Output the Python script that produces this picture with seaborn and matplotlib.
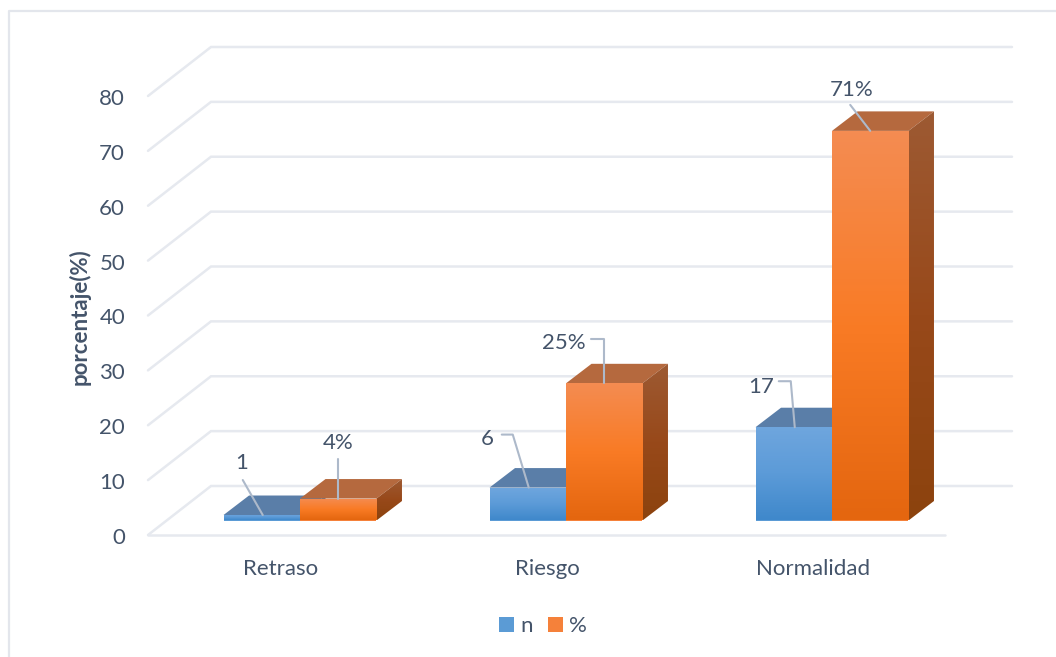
import matplotlib
matplotlib.use("Agg")
import matplotlib.pyplot as plt
from matplotlib.colors import LinearSegmentedColormap
from matplotlib.lines import Line2D
from matplotlib.patches import Polygon, Rectangle
from matplotlib.transforms import Affine2D
import numpy as np
import pandas as pd
import seaborn as sns

categories = ["Retraso", "Riesgo", "Normalidad"]
n_values = [1, 6, 17]
pct_values = [4, 25, 71]
series_names = ["n", "%"]
y_ticks = [0, 10, 20, 30, 40, 50, 60, 70, 80]

W, H = 1056, 657
TEXT = "#44546A"
GRID = "#E6E9EF"
LEADER = "#ADB9CA"
FS = 16

sns.set_theme(style="white")
plt.rcParams["font.family"] = ["Lato", "DejaVu Sans"]

df = pd.DataFrame({
    "cat": categories * 2,
    "serie": [series_names[0]] * 3 + [series_names[1]] * 3,
    "val": n_values + pct_values,
})

fig = plt.figure(figsize=(W / 100, H / 100), dpi=100, facecolor="white")


def make_axes(left, right, y0, y80):
    ax = fig.add_axes([left / W, 1 - y0 / H, (right - left) / W, (y0 - y80) / H])
    ax.set_xlim((left - 300) / 266, (right - 300) / 266)
    ax.set_ylim(0, 80)
    ax.patch.set_alpha(0)
    for s in ax.spines.values():
        s.set_visible(False)
    return ax


# outer frame: only top and left edges are visible in the crop
fig.add_artist(Line2D([8.5 / W, 8.5 / W, 1.0], [0.0, 1 - 11 / H, 1 - 11 / H],
                      transform=fig.transFigure, color="#E3E6EC", lw=1.6))

# walls and value axis
ax_grid = make_axes(148, 945, 535, 96)
PX_Y = 439 / 80
wall_dx, wall_dy = 63 / 266, 49 / PX_Y
xl, xr = ax_grid.get_xlim()
for v in y_ticks:
    ax_grid.plot([xl, xl + wall_dx, xr + 67 / 266], [v, v + wall_dy, v + wall_dy],
                 color=GRID, lw=1.8, clip_on=False, solid_joinstyle="miter", zorder=1)
ax_grid.plot([xl, xr], [0, 0], color=GRID, lw=1.8, zorder=1, clip_on=False)
ax_grid.set_xticks([])
ax_grid.set_yticks(y_ticks)
ax_grid.tick_params(axis="y", length=0, pad=16.5, labelsize=FS, labelcolor=TEXT)
for lab in ax_grid.get_yticklabels():
    lab.set_transform(lab.get_transform() + Affine2D().translate(0, -1))
fig.text(80 / W, 1 - 317 / H, "porcentaje(%)", rotation=90, ha="center", va="center",
         fontsize=16, fontweight="bold", color=TEXT)

# bars
ax = make_axes(148, 945, 520.5, 81.5)
sns.barplot(data=df, x="cat", y="val", hue="serie", hue_order=series_names, order=categories,
            palette=["#5B9BD5", "#F5813A"], width=0.575, gap=0, ax=ax, legend=False,
            saturation=1, zorder=3)
ax.set_xlabel("")
ax.set_ylabel("")
ax.set_yticks([])
ax.set_xticks(range(3))
ax.set_xticklabels(categories)
ax.tick_params(axis="x", length=0, pad=27.5, labelsize=FS, labelcolor=TEXT)
for lab in ax.get_xticklabels():
    lab.set_transform(lab.get_transform() + Affine2D().translate(-19, 0))

dx, dy = 25.5 / 266, 19.5 / PX_Y
grad_front = [
    LinearSegmentedColormap.from_list("b", ["#6FA6DE", "#5C9BD8", "#3F88CB"]),
    LinearSegmentedColormap.from_list("o", ["#F48C52", "#F97B25", "#E4660F"]),
]
grad_side = [
    LinearSegmentedColormap.from_list("bs", ["#4F7BA8", "#3A6FA5"]),
    LinearSegmentedColormap.from_list("os", ["#9D5A33", "#98491A", "#8C430E"]),
]
top_colors = ["#5A7EA8", "#B5693E"]
ramp = np.linspace(0, 1, 128)[:, None]

bars = list(ax.patches)
for i, bar in enumerate(bars):
    s = i // 3
    x0, w, h = bar.get_x(), bar.get_width(), bar.get_height()
    x1 = x0 + w
    base_z = 3 + s * 2
    top = Polygon([(x0, h), (x1, h), (x1 + dx, h + dy), (x0 + dx, h + dy)], closed=True,
                  fc=top_colors[s], ec="none", zorder=base_z)
    ax.add_patch(top)
    side = Polygon([(x1, 0), (x1 + dx, dy), (x1 + dx, h + dy), (x1, h)], closed=True,
                   fc="none", ec="none", zorder=base_z)
    ax.add_patch(side)
    im = ax.imshow(ramp, cmap=grad_side[s], aspect="auto", extent=(x1, x1 + dx, 0, h + dy),
                   origin="upper", zorder=base_z)
    im.set_clip_path(side)
    bar.set_zorder(base_z + 1)
    bar.set_edgecolor("none")
    im2 = ax.imshow(ramp, cmap=grad_front[s], aspect="auto", extent=(x0, x1, 0, h),
                    origin="upper", zorder=base_z + 1.5)
    im2.set_clip_path(bar)
ax.set_xlim((148 - 300) / 266, (945 - 300) / 266)
ax.set_ylim(0, 80)

# data labels with leader lines, offsets in pixels from the bar's top centre
label_texts = [str(v) for v in n_values] + [f"{v}%" for v in pct_values]
text_off = [(-20, 52), (-41, 49), (-33, 40), (0, 56), (-40, 40), (-19, 41)]
leader_off = [
    [(-19, 35), (1, 0)],
    [(-26, 53), (-15, 53), (1, 0)],
    [(-15, 46), (-3, 46), (1, 0)],
    [(0, 40), (0, 0)],
    [(-13, 44), (0, 44), (0, 0)],
    [(-20, 26), (0, 0)],
]
for i, bar in enumerate(bars):
    cx = bar.get_x() + bar.get_width() / 2
    h = bar.get_height()
    anchor = ax.transData.transform((cx, h))
    verts = np.array(leader_off[i], dtype=float) + anchor
    ax.add_line(Line2D(verts[:, 0], verts[:, 1], transform=None, color=LEADER, lw=1.5,
                       zorder=12, clip_on=False))
    ax.text(cx, h, label_texts[i], transform=ax.transData + Affine2D().translate(*text_off[i]),
            ha="center", va="center", fontsize=FS, color=TEXT, zorder=13, clip_on=False)

# legend
handles = [Rectangle((0, 0), 1, 1, fc=c, ec="none") for c in ["#5B9BD5", "#F5813A"]]
fig.legend(handles, series_names, loc="center", bbox_to_anchor=(543 / W, 1 - 626 / H),
           ncols=2, frameon=False, fontsize=FS, labelcolor=TEXT, handlelength=0.68,
           handleheight=0.64, handletextpad=0.3, columnspacing=0.65)

fig.savefig("out.png", dpi=100, facecolor="white")
